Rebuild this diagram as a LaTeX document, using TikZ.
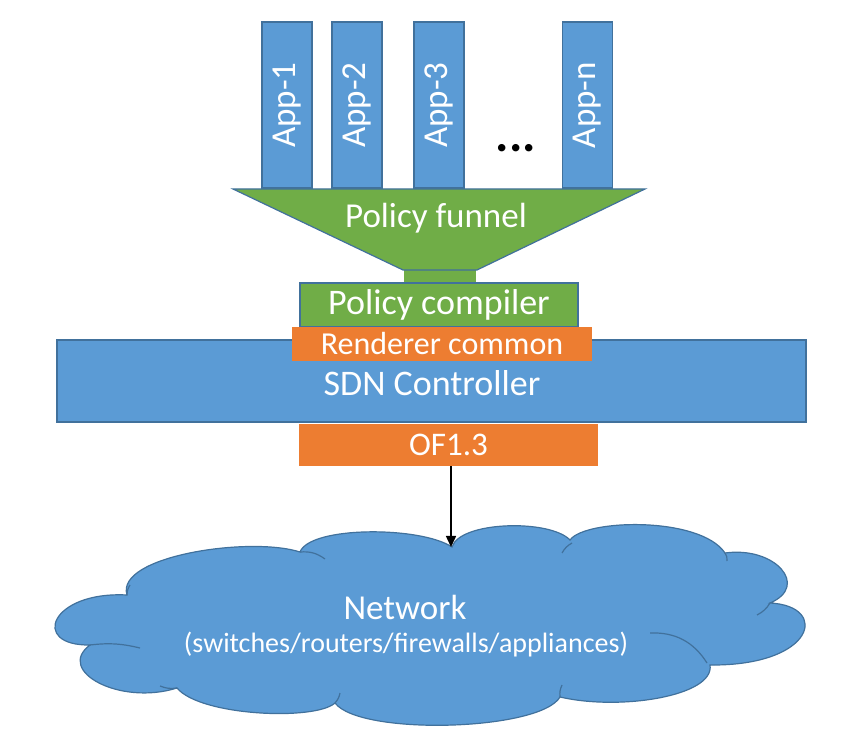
\documentclass[tikz,border=0pt]{standalone}
\usepackage{fontspec}
\setmainfont{Carlito}
\usetikzlibrary{arrows.meta}
\definecolor{appblue}{HTML}{5B9BD5}
\definecolor{edgeblue}{HTML}{41719C}
\definecolor{policygreen}{HTML}{70AD47}
\definecolor{renderorange}{HTML}{ED7D31}
\tikzset{
  appbox/.style={draw=edgeblue, line width=1.5pt, fill=appblue, text=white,
    rotate=90, minimum width=166pt, minimum height=50pt, inner sep=0pt,
    font=\fontsize{35}{40}\selectfont},
  greenbox/.style={draw=edgeblue, line width=1.2pt, fill=policygreen, text=white, inner sep=0pt},
  orangebox/.style={fill=renderorange, text=white, inner sep=0pt},
  label/.style={text=white, inner sep=0pt}
}

\begin{document}
\begin{tikzpicture}[x=1pt, y=1pt]
    \useasboundingbox (0,0) rectangle (848,731);

      % applications
      \foreach \i/\x/\t in {1/287/App-1, 2/357/App-2, 3/439/App-3, n/587.5/App-n}{
        \node[appbox] (app\i) at (\x,626) {\t};
      }
      \node[font=\fontsize{50}{50}\selectfont\bfseries] (dots) at (516,583) {...};

      % funnel
      \fill[policygreen] (404,448) rectangle (476,462);
      \draw[line width=1.2pt, draw=edgeblue, fill=policygreen]
        (233,542) -- (645,542) -- (477,461) -- (403,461) -- cycle;
      \node[label, font=\fontsize{35}{40}\selectfont] (funnel) at (436,513) {Policy funnel};

      % compiler
      \node[greenbox, minimum width=278pt, minimum height=44pt,
        font=\fontsize{36}{40}\selectfont] (compiler) at (439,426) {Policy compiler};

      % controller
      \node[draw=edgeblue, line width=1.5pt, fill=appblue, minimum width=749pt,
        minimum height=82pt, inner sep=0pt] (sdn) at (431.5,350) {};
      \node[label, font=\fontsize{36}{40}\selectfont] (sdntext) at (432,348) {SDN Controller};
      \node[orangebox, minimum width=300pt, minimum height=34pt,
        font=\fontsize{32}{36}\selectfont] (renderer) at (442,387) {Renderer common};
      \node[orangebox, minimum width=299pt, minimum height=42pt,
        font=\fontsize{33}{38}\selectfont] (of) at (448.5,286) {OF1.3};

      % network cloud
      \draw[draw=edgeblue, line width=1.2pt, fill=appblue]
        (127,136) .. controls (115,175) and (250,195) .. (300,179)
        .. controls (310,205) and (420,205) .. (452,184)
        .. controls (460,210) and (550,212) .. (570,191)
        .. controls (585,212) and (700,215) .. (725,178)
        .. controls (775,185) and (810,145) .. (770,128)
        .. controls (830,125) and (815,65) .. (710,66)
        .. controls (715,35) and (620,20) .. (560,34)
        .. controls (540,0) and (360,-5) .. (335,28)
        .. controls (315,10) and (200,15) .. (177,43)
        .. controls (120,25) and (55,60) .. (90,86)
        .. controls (30,85) and (50,140) .. (127,136) -- cycle;
      \draw[edgeblue, line width=1.2pt]
        (300,179) to[bend left=20] (325,172)
        (562,178) to[bend left=15] (572,188)
        (725,178) to[bend left=20] (727,170)
        (770,128) to[bend left=15] (757,116)
        (650,98) to[bend left=30] (707,68)
        (560,34) to[bend left=15] (562,46)
        (335,28) to[bend right=15] (340,38)
        (177,43) to[bend left=15] (160,45)
        (90,86) to[bend left=10] (140,83)
        (127,136) to[bend left=15] (130,146);
      \coordinate (netin) at (451,184);
      \node[label, font=\fontsize{35}{40}\selectfont] (net) at (405,124) {Network};
      \node[label, font=\fontsize{28}{32}\selectfont] (netsub) at (406,86)
        {(switches/routers/firewalls/appliances)};

      % link
      \draw[line width=1.5pt, -{Triangle[length=11pt, width=10pt]}] (of.south -| netin) -- (netin);

    \end{tikzpicture}
\end{document}
